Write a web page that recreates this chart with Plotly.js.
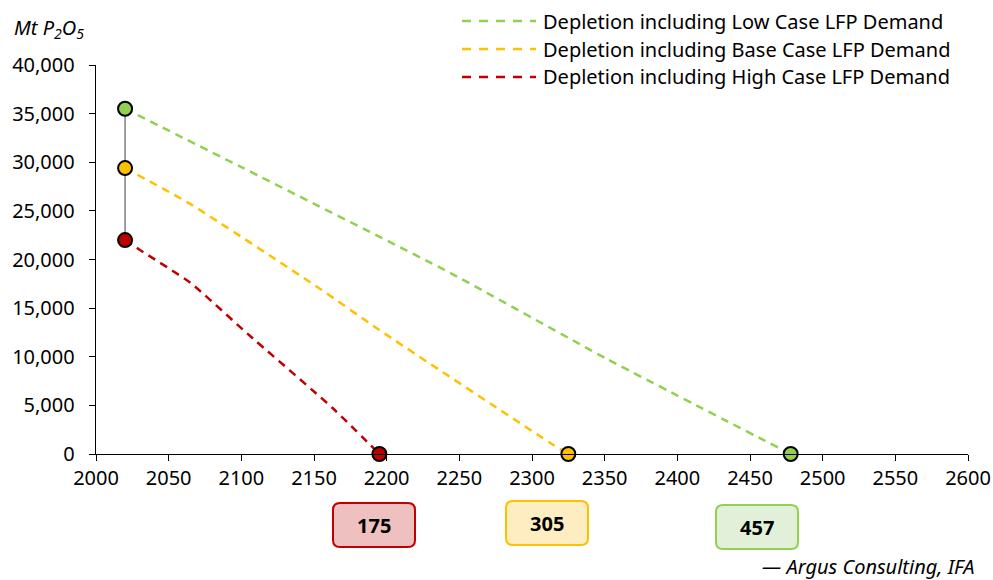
<!DOCTYPE html>
<html>
<head>
<meta charset="utf-8">
<script src="https://cdn.plot.ly/plotly-3.0.1.min.js"></script>
<style>html,body{margin:0;padding:0;background:#fff;}#chart{width:993px;height:580px;}</style>
</head>
<body>
<div id="chart"></div>
<script>
// ---- data ----
const lowYears  = [2020, 2100, 2244, 2350, 2478];
const lowValues = [35500, 29500, 18600, 9900, 0];

const baseYears  = [2020, 2065, 2154, 2195, 2315, 2325];
const baseValues = [29400, 25700, 17000, 12750, 900, 0];

const highYears  = [2020, 2030, 2065, 2104, 2163, 2195];
const highValues = [22000, 21000, 17600, 12400, 4700, 0];

const seriesNames = [
  "Depletion including Low Case LFP Demand",
  "Depletion including Base Case LFP Demand",
  "Depletion including High Case LFP Demand"
];
const yearsLeft = ["175", "305", "457"];
const startYear = [2020];
const startValues = [22000, 35500];

const GREEN = "#92D050", YELLOW = "#FFC000", RED = "#C00000";
const FONT = "Noto Sans, Open Sans, sans-serif";
const FS = 20;

// plot area in pixels (for layout helpers)
const L = 96, R = 968, T = 65, B = 454;
const px = x => (x - L) / (R - L);
const py = y => (B - y) / (B - T);

function lineTrace(xs, ys, color) {
  return {x: xs, y: ys, mode: "lines", type: "scatter", showlegend: false,
    line: {color: color, width: 2.5, dash: "8px,6px", shape: "spline", smoothing: 0.5},
    hoverinfo: "skip"};
}
function endPoints(xs, ys, color) {
  return {x: [xs[0], xs[xs.length - 1]], y: [ys[0], ys[ys.length - 1]],
    mode: "markers", type: "scatter", showlegend: false, cliponaxis: false,
    marker: {color: color, size: 14, line: {color: "#000", width: 2}}};
}

const traces = [
  {x: [startYear[0], startYear[0]], y: startValues, mode: "lines", type: "scatter",
   showlegend: false, line: {color: "#606060", width: 1.2}},
  lineTrace(lowYears, lowValues, GREEN),
  lineTrace(baseYears, baseValues, YELLOW),
  lineTrace(highYears, highValues, RED),
  endPoints(lowYears, lowValues, GREEN),
  endPoints(baseYears, baseValues, YELLOW),
  endPoints(highYears, highValues, RED)
];

function roundRect(x0, y0, x1, y1, r, fill, stroke) {
  const rx = r / (R - L), ry = r / (B - T);
  const a = px(x0), b = px(x1), top = py(y0), bot = py(y1);
  const path = `M ${a + rx},${top} L ${b - rx},${top} Q ${b},${top} ${b},${top - ry} ` +
    `L ${b},${bot + ry} Q ${b},${bot} ${b - rx},${bot} L ${a + rx},${bot} ` +
    `Q ${a},${bot} ${a},${bot + ry} L ${a},${top - ry} Q ${a},${top} ${a + rx},${top} Z`;
  return {type: "path", xref: "paper", yref: "paper", path: path,
    fillcolor: fill, line: {color: stroke, width: 2}, layer: "above"};
}

const boxes = [
  {x0: 333, y0: 503, x1: 415, y1: 547, fill: "#EFC0C0", stroke: RED, text: yearsLeft[0]},
  {x0: 506, y0: 501, x1: 588, y1: 545, fill: "#FFEDC2", stroke: YELLOW, text: yearsLeft[1]},
  {x0: 716, y0: 505, x1: 798, y1: 549, fill: "#E2F0D9", stroke: GREEN, text: yearsLeft[2]}
];

const shapes = boxes.map(b => roundRect(b.x0, b.y0, b.x1, b.y1, 7, b.fill, b.stroke));
const legendColors = [GREEN, YELLOW, RED];
const legendY = [21, 49, 77];
legendColors.forEach((c, i) => {
  shapes.push({type: "line", xref: "paper", yref: "paper",
    x0: px(462), x1: px(536), y0: py(legendY[i]), y1: py(legendY[i]),
    line: {color: c, width: 2.5, dash: "9px,8px"}});
});

const annotations = boxes.map(b => ({
  xref: "paper", yref: "paper", x: px((b.x0 + b.x1) / 2), y: py((b.y0 + b.y1) / 2),
  text: "<b>" + b.text + "</b>", showarrow: false, xanchor: "center", yanchor: "middle",
  font: {family: FONT, size: 20, color: "#000"}
}));
seriesNames.forEach((n, i) => {
  annotations.push({xref: "paper", yref: "paper", x: px(541), y: py(legendY[i]),
    text: n, showarrow: false, xanchor: "left", yanchor: "middle",
    font: {family: FONT, size: FS, color: "#000"}});
});
annotations.push({xref: "paper", yref: "paper", x: px(12), y: py(28),
  text: "<i>Mt P<sub>2</sub>O<sub>5</sub></i>", showarrow: false, xanchor: "left", yanchor: "middle",
  font: {family: FONT, size: FS, color: "#000"}});
annotations.push({xref: "paper", yref: "paper", x: px(977), y: py(566),
  text: "<i>— Argus Consulting, IFA</i>", showarrow: false, xanchor: "right", yanchor: "middle",
  font: {family: FONT, size: FS, color: "#000"}});

const layout = {
  width: 993, height: 580,
  margin: {l: L, r: 993 - R, t: T, b: 580 - B, pad: 0},
  paper_bgcolor: "#fff", plot_bgcolor: "#fff",
  showlegend: false,
  font: {family: FONT, size: FS, color: "#000"},
  xaxis: {range: [2000, 2600], dtick: 50, tick0: 2000, showgrid: false, zeroline: false,
    showline: true, linecolor: "#000", linewidth: 1.3, ticks: "outside", ticklen: 6,
    tickcolor: "#000", tickformat: "d", tickfont: {family: FONT, size: FS}},
  yaxis: {range: [0, 40000], dtick: 5000, showgrid: false, zeroline: false,
    showline: true, linecolor: "#000", linewidth: 1.3, ticks: "outside", ticklen: 6,
    tickcolor: "#000", tickformat: ",d", ticklabelstandoff: 10, tickfont: {family: FONT, size: FS}},
  shapes: shapes,
  annotations: annotations
};

Plotly.newPlot("chart", traces, layout, {displayModeBar: false, staticPlot: true});
</script>
</body>
</html>
